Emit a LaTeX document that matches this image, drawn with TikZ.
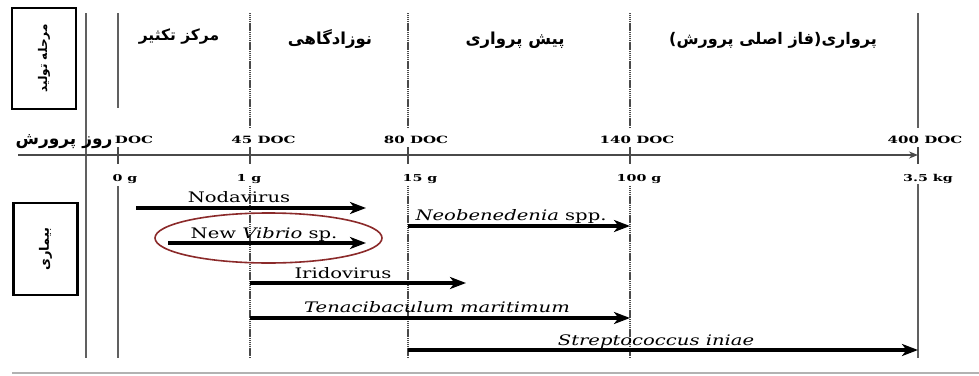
\documentclass[tikz,border=0pt]{standalone}
\usepackage{fontspec}
\usetikzlibrary{arrows.meta,shapes.geometric}
\TeXXeTstate=1
\setmainfont{DejaVu Serif}
\newfontfamily\fa[Script=Arabic]{DejaVu Sans Bold}
\newfontfamily\docfont[FakeStretch=1.5]{DejaVu Serif Bold}
\newfontfamily\disfont[FakeStretch=1.35]{DejaVu Serif}
\newfontfamily\disifont[FakeStretch=1.35]{DejaVu Serif Italic}
\definecolor{lgray}{HTML}{606060}
\definecolor{dgray}{HTML}{4A4A4A}
\definecolor{agray}{HTML}{4A4A4A}
\definecolor{ered}{HTML}{8B2A2A}
\begin{document}
\begin{tikzpicture}[x=1pt,y=-1pt,
  vsolid/.style={draw=lgray,line width=2.8pt},
  vdot/.style={draw=dgray,line width=2.6pt,dash pattern=on 1.3pt off 0.6pt},
  tick/.style={draw=agray,line width=2.6pt},
  arr/.style={draw=black,line width=3.1pt,-{Stealth[length=16pt,width=12pt,inset=4.5pt]}},
  phase/.style={font=\fa\fontsize{16.5}{19}\selectfont,anchor=base},
  doc/.style={font=\docfont\fontsize{10}{12}\selectfont,anchor=base},
  gram/.style={font=\docfont\fontsize{9.5}{12}\selectfont,anchor=base},
  dis/.style={font=\disfont\fontsize{14.5}{17}\selectfont,anchor=base},
  disi/.style={font=\disifont\fontsize{14.5}{17}\selectfont,anchor=base},
  sidebox/.style={draw=black,line width=2.2pt,minimum width=64pt,inner sep=0pt}]
\useasboundingbox (0,0) rectangle (979,375);
% side boxes
\node[sidebox,minimum height=101pt] (box1) at (44,58.5) {};
\node[font=\fa\fontsize{12}{14}\selectfont,rotate=90] (t1) at (box1.center) {\beginR مرحله تولید\endR};
\node[sidebox,minimum height=92pt] (box2) at (45.5,249) {};
\node[font=\fa\fontsize{13}{15}\selectfont,rotate=90] (t2) at (box2.center) {\beginR بیماری\endR};
% vertical lines
\coordinate (l0t) at (86,13); \coordinate (l0b) at (86,358);
\draw[vsolid] (l0t) -- (l0b);
\coordinate (l1t) at (118,13); \coordinate (l1m) at (118,108);
\coordinate (l1s) at (118,186); \coordinate (l1b) at (118,358);
\draw[vsolid] (l1t) -- (l1m); \draw[vsolid] (l1s) -- (l1b);
\coordinate (l2t) at (250,13); \coordinate (l2m) at (250,128);
\coordinate (l2s) at (250,186); \coordinate (l2b) at (250,358);
\draw[vdot] (l2t) -- (l2m); \draw[vdot] (l2s) -- (l2b);
\coordinate (l3t) at (408,13); \coordinate (l3m) at (408,128);
\coordinate (l3s) at (408,186); \coordinate (l3b) at (408,358);
\draw[vdot] (l3t) -- (l3m); \draw[vdot] (l3s) -- (l3b);
\coordinate (l4t) at (630,13); \coordinate (l4m) at (630,128);
\coordinate (l4s) at (630,186); \coordinate (l4b) at (630,358);
\draw[vdot] (l4t) -- (l4m); \draw[vdot] (l4s) -- (l4b);
\coordinate (l5t) at (918,13); \coordinate (l5m) at (918,128);
\coordinate (l5s) at (918,184); \coordinate (l5b) at (918,358);
\draw[vsolid] (l5t) -- (l5m); \draw[vsolid] (l5s) -- (l5b);
% axis
\coordinate (axs) at (18,155); \coordinate (axe) at (918,155);
\draw[draw=agray,line width=2.2pt,-{Stealth[length=9pt,width=7pt]}] (axs) -- (axe);
\foreach \x/\n in {118/a,250/b,408/c,630/d,918/e}{
  \coordinate (t\n t) at (\x,147); \coordinate (t\n b) at (\x,164);
  \draw[tick] (t\n t) -- (t\n b);}
% phase titles
\node[phase,font=\fa\fontsize{15.5}{18}\selectfont] (p1) at (179,40) {\beginR مرکز تکثیر\endR};
\node[phase] (p2) at (330,44) {\beginR نوزادگاهی\endR};
\node[phase] (p3) at (515,44) {\beginR پیش پرواری\endR};
\node[phase,font=\fa\fontsize{16}{18}\selectfont] (p4) at (773,44) {\beginR پرواری(فاز اصلی پرورش)\endR};
% DOC labels
\node[phase,font=\fa\fontsize{17}{19}\selectfont] (rp) at (64,144) {\beginR روز پرورش\endR};
\node[doc] (d0) at (134,143) {DOC};
\node[doc] (d1) at (263.5,143) {45 DOC};
\node[doc] (d2) at (416,143) {80 DOC};
\node[doc] (d3) at (637,143) {140 DOC};
\node[doc] (d4) at (925,143) {400 DOC};
% gram labels
\node[gram] (g0) at (125,181) {0 g};
\node[gram] (g1) at (249,181) {1 g};
\node[gram] (g2) at (420,181) {15 g};
\node[gram] (g3) at (639,181) {100 g};
\node[gram] (g4) at (928,181) {3.5 kg};
% disease arrows
\coordinate (nodS) at (136,208); \coordinate (nodE) at (366,208);
\draw[arr] (nodS) -- (nodE);
\node[dis] (nodL) at (239,202) {Nodavirus};
\coordinate (vibS) at (168,243); \coordinate (vibE) at (366,243);
\draw[arr] (vibS) -- (vibE);
\node[dis] (vibL) at (264,238) {New {\disifont Vibrio} sp.};
\node[draw=ered,line width=1.6pt,ellipse,minimum width=227pt,minimum height=50pt,inner sep=0pt] (ell) at (268.5,238) {};
\coordinate (iriS) at (250,283); \coordinate (iriE) at (466,283);
\draw[arr] (iriS) -- (iriE);
\node[dis] (iriL) at (343,278) {Iridovirus};
\coordinate (tenS) at (250,318); \coordinate (tenE) at (630,318);
\draw[arr] (tenS) -- (tenE);
\node[disi] (tenL) at (437,312) {Tenacibaculum maritimum};
\coordinate (neoS) at (408,226); \coordinate (neoE) at (630,226);
\draw[arr] (neoS) -- (neoE);
\node[disi] (neoL) at (511,220) {Neobenedenia {\disfont spp.}};
\coordinate (strS) at (408,350); \coordinate (strE) at (918,350);
\draw[arr] (strS) -- (strE);
\node[disi] (strL) at (656,345) {Streptococcus iniae};
% bottom rule
\coordinate (brs) at (12,373); \coordinate (bre) at (979,373);
\draw[draw=gray!60,line width=1.6pt] (brs) -- (bre);
\end{tikzpicture}
\end{document}
